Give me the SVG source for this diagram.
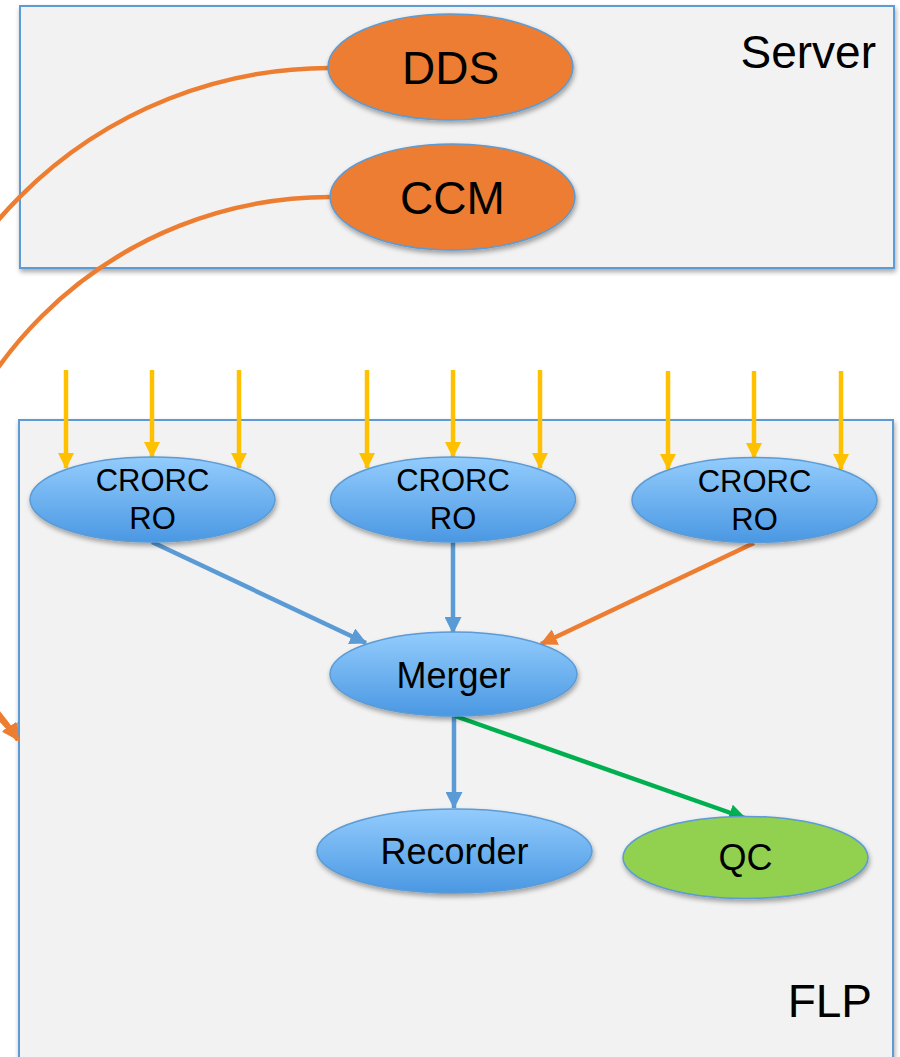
<svg xmlns="http://www.w3.org/2000/svg" width="900" height="1057" viewBox="0 0 900 1057">
<defs>
<style>
.box{fill:#F2F2F2;stroke:#5B9BD5;stroke-width:2}
.lbl{font-family:"Liberation Sans",Arial,sans-serif;fill:#000}
.big{font-size:46px}
.mid{font-size:36px}
.sm{font-size:31px}
.orange{fill:#ED7D31;stroke:#5B9BD5;stroke-width:1.5}
.blue{fill:url(#gBlue);stroke:#5B9BD5;stroke-width:1.5}
.green{fill:#92D050;stroke:#5B9BD5;stroke-width:1.5}
.yl{stroke:#FFC000;stroke-width:4.5;fill:none;marker-end:url(#mY)}
.bl{stroke:#5B9BD5;stroke-width:4.5;fill:none;marker-end:url(#mB)}
.ola{stroke:#ED7D31;stroke-width:4.5;fill:none;marker-end:url(#mO)}
.gl{stroke:#00B050;stroke-width:4.5;fill:none;marker-end:url(#mG)}
</style>
<linearGradient id="gBlue" x1="0" y1="0" x2="0" y2="1">
<stop offset="0" stop-color="#93CCFC"/>
<stop offset="1" stop-color="#4A98E3"/>
</linearGradient>
<filter id="sh" x="-10%" y="-10%" width="130%" height="140%">
<feGaussianBlur in="SourceAlpha" stdDeviation="2.5"/>
<feOffset dx="1" dy="3" result="o"/>
<feComponentTransfer><feFuncA type="linear" slope="0.35"/></feComponentTransfer>
<feMerge><feMergeNode/><feMergeNode in="SourceGraphic"/></feMerge>
</filter>
<marker id="mY" markerUnits="userSpaceOnUse" markerWidth="16" markerHeight="16" viewBox="0 0 16 16" refX="15" refY="8" orient="auto"><path d="M0,0 L16,8 L0,16 z" fill="#FFC000"/></marker>
<marker id="mB" markerUnits="userSpaceOnUse" markerWidth="17" markerHeight="17" viewBox="0 0 16 16" refX="15" refY="8" orient="auto"><path d="M0,0 L16,8 L0,16 z" fill="#5B9BD5"/></marker>
<marker id="mO" markerUnits="userSpaceOnUse" markerWidth="17" markerHeight="17" viewBox="0 0 16 16" refX="15" refY="8" orient="auto"><path d="M0,0 L16,8 L0,16 z" fill="#ED7D31"/></marker>
<marker id="mG" markerUnits="userSpaceOnUse" markerWidth="17" markerHeight="17" viewBox="0 0 16 16" refX="15" refY="8" orient="auto"><path d="M0,0 L16,8 L0,16 z" fill="#00B050"/></marker>
</defs>
<rect width="900" height="1057" fill="#FFFFFF"/>
<g id="server">
<rect class="box" x="20" y="6" width="874" height="262" filter="url(#sh)"/>
<text class="lbl big" x="876" y="68" text-anchor="end">Server</text>
</g>
<g id="flp">
<rect class="box" x="19" y="420" width="874" height="660" filter="url(#sh)"/>
<text class="lbl big" x="872" y="1017" text-anchor="end">FLP</text>
</g>
<g id="connectors">
<path class="ola" d="M330,68 A438,438 0 0 0 -108,506 C -108,620 -10,690 18,740"/>
<path class="ola" d="M330,197 A408,408 0 0 0 -78,605 C -78,660 -10,700 18,740"/>
<line class="yl" x1="66" y1="370" x2="66" y2="468"/>
<line class="yl" x1="152" y1="370" x2="152" y2="457"/>
<line class="yl" x1="239" y1="370" x2="239" y2="468"/>
<line class="yl" x1="367" y1="370" x2="367" y2="468"/>
<line class="yl" x1="453" y1="370" x2="453" y2="457"/>
<line class="yl" x1="540" y1="370" x2="540" y2="468"/>
<line class="yl" x1="668" y1="371" x2="668" y2="469"/>
<line class="yl" x1="754" y1="371" x2="754" y2="458"/>
<line class="yl" x1="841" y1="371" x2="841" y2="469"/>
<line class="bl" x1="152" y1="542" x2="366" y2="643"/>
<line class="bl" x1="453" y1="542" x2="453" y2="633"/>
<line class="ola" x1="754" y1="543" x2="541" y2="644"/>
<line class="bl" x1="454" y1="716" x2="454" y2="808"/>
<line class="gl" x1="455" y1="716" x2="745" y2="818"/>
</g>
<g id="dds">
<ellipse class="orange" cx="450.5" cy="67" rx="122.5" ry="53" filter="url(#sh)"/>
<text class="lbl big" x="450.5" y="84" text-anchor="middle">DDS</text>
</g>
<g id="ccm">
<ellipse class="orange" cx="452.5" cy="197" rx="122.5" ry="53" filter="url(#sh)"/>
<text class="lbl big" x="452.5" y="214" text-anchor="middle">CCM</text>
</g>
<g id="crorc1">
<ellipse class="blue" cx="152.5" cy="499.5" rx="122.5" ry="42.5" filter="url(#sh)"/>
<text class="lbl sm" x="152.5" y="491" text-anchor="middle">CRORC</text>
<text class="lbl sm" x="152.5" y="529" text-anchor="middle">RO</text>
</g>
<g id="crorc2">
<ellipse class="blue" cx="453" cy="499.5" rx="122.5" ry="42.5" filter="url(#sh)"/>
<text class="lbl sm" x="453" y="491" text-anchor="middle">CRORC</text>
<text class="lbl sm" x="453" y="529" text-anchor="middle">RO</text>
</g>
<g id="crorc3">
<ellipse class="blue" cx="754.5" cy="500" rx="122.5" ry="42.5" filter="url(#sh)"/>
<text class="lbl sm" x="754.5" y="492" text-anchor="middle">CRORC</text>
<text class="lbl sm" x="754.5" y="530" text-anchor="middle">RO</text>
</g>
<g id="merger">
<ellipse class="blue" cx="453.5" cy="674" rx="123.5" ry="42" filter="url(#sh)"/>
<text class="lbl mid" x="453.5" y="688" text-anchor="middle">Merger</text>
</g>
<g id="recorder">
<ellipse class="blue" cx="454.5" cy="851" rx="137.5" ry="42" filter="url(#sh)"/>
<text class="lbl mid" x="454.5" y="864" text-anchor="middle">Recorder</text>
</g>
<g id="qc">
<ellipse class="green" cx="745.5" cy="857.5" rx="122.5" ry="41" filter="url(#sh)"/>
<text class="lbl mid" x="745.5" y="870" text-anchor="middle">QC</text>
</g>
</svg>
